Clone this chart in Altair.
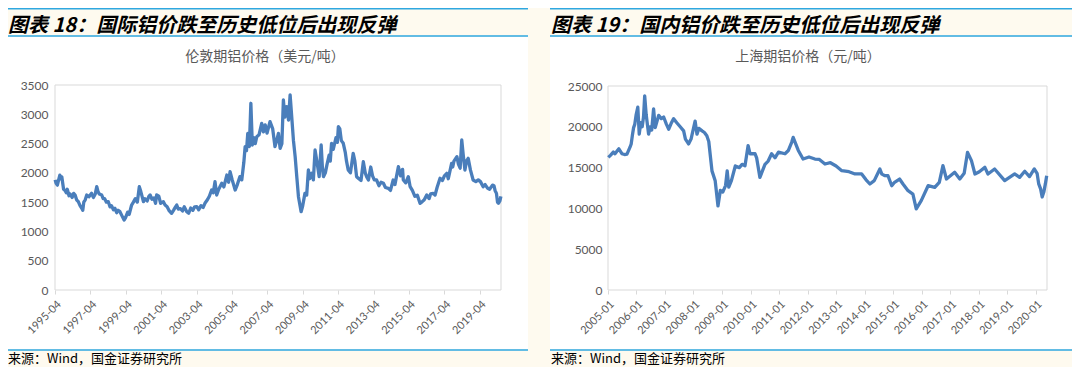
import altair as alt
import pandas as pd

# ---------------- data ----------------
lme_dates = [
    "1995-04-03", "1995-04-25", "1995-05-20", "1995-06-15", "1995-07-10", "1995-07-28", "1995-08-20",
    "1995-09-25", "1995-10-25", "1995-11-20", "1995-12-10", "1996-01-15", "1996-02-05", "1996-03-20",
    "1996-04-20", "1996-05-20", "1996-06-20", "1996-07-25", "1996-08-30", "1996-10-05", "1996-10-25",
    "1996-11-15", "1996-12-15", "1997-01-15", "1997-03-01", "1997-04-25", "1997-06-01", "1997-07-10",
    "1997-08-10", "1997-09-05", "1997-10-01", "1997-11-20", "1997-12-20", "1998-01-20", "1998-02-25",
    "1998-04-05", "1998-05-10", "1998-06-10", "1998-07-20", "1998-08-20", "1998-09-25", "1998-10-25",
    "1998-12-01", "1999-01-10", "1999-02-25", "1999-03-25", "1999-05-10", "1999-06-10", "1999-07-30",
    "1999-09-05", "1999-10-15", "1999-11-25", "2000-01-05", "2000-02-05", "2000-03-30", "2000-04-30",
    "2000-06-15", "2000-07-20", "2000-08-15", "2000-09-20", "2000-11-01", "2000-12-05", "2000-12-28",
    "2001-02-10", "2001-03-20", "2001-05-15", "2001-06-20", "2001-08-01", "2001-09-15", "2001-11-01",
    "2001-12-10", "2002-01-15", "2002-02-15", "2002-03-20", "2002-05-01", "2002-06-15", "2002-07-20",
    "2002-09-10", "2002-10-20", "2002-12-01", "2003-01-15", "2003-02-20", "2003-04-05", "2003-05-15",
    "2003-07-01", "2003-08-15", "2003-09-20", "2003-11-10", "2003-12-20", "2004-02-05", "2004-03-10",
    "2004-04-15", "2004-05-20", "2004-07-01", "2004-09-01", "2004-10-15", "2004-12-15", "2005-01-20",
    "2005-02-20", "2005-04-05", "2005-06-05", "2005-07-20", "2005-09-10", "2005-10-20", "2005-12-01",
    "2005-12-28", "2006-01-25", "2006-02-20", "2006-03-25", "2006-04-25", "2006-05-05", "2006-05-25",
    "2006-06-25", "2006-07-25", "2006-08-25", "2006-10-10", "2006-12-05", "2007-01-10", "2007-02-15",
    "2007-03-25", "2007-05-25", "2007-07-20", "2007-09-05", "2007-10-10", "2007-11-15", "2007-12-20",
    "2008-01-25", "2008-02-25", "2008-03-25", "2008-05-05", "2008-06-10", "2008-07-13", "2008-08-15",
    "2008-09-20", "2008-10-25", "2008-12-01", "2009-01-01", "2009-02-25", "2009-03-25", "2009-05-15",
    "2009-06-20", "2009-07-25", "2009-08-20", "2009-10-01", "2009-11-05", "2009-12-10", "2010-01-25",
    "2010-03-05", "2010-04-15", "2010-05-10", "2010-06-01", "2010-07-10", "2010-08-15", "2010-09-25",
    "2010-10-20", "2010-11-15", "2010-12-20", "2011-02-15", "2011-03-15", "2011-04-05", "2011-05-05",
    "2011-06-05", "2011-07-15", "2011-08-25", "2011-09-20", "2011-10-25", "2011-12-10", "2012-02-05",
    "2012-03-10", "2012-04-15", "2012-06-01", "2012-07-15", "2012-09-01", "2012-10-10", "2012-11-10",
    "2012-12-15", "2013-02-01", "2013-03-10", "2013-04-15", "2013-06-01", "2013-07-20", "2013-09-01",
    "2013-10-20", "2013-12-01", "2014-01-30", "2014-03-15", "2014-05-10", "2014-06-15", "2014-08-25",
    "2014-10-10", "2014-11-20", "2014-12-05", "2015-01-25", "2015-03-18", "2015-04-25", "2015-06-10",
    "2015-08-01", "2015-09-20", "2015-11-15", "2015-12-20", "2016-02-10", "2016-04-01", "2016-05-20",
    "2016-06-20", "2016-08-15", "2016-09-20", "2016-11-01", "2017-01-01", "2017-02-20", "2017-04-01",
    "2017-05-20", "2017-06-20", "2017-08-28", "2017-09-20", "2017-10-15", "2017-12-15", "2018-01-15",
    "2018-02-20", "2018-03-25", "2018-04-25", "2018-05-30", "2018-07-01", "2018-08-05", "2018-09-20",
    "2018-11-15", "2019-01-10", "2019-03-01", "2019-04-15", "2019-06-10", "2019-07-20", "2019-09-12",
    "2019-10-20", "2019-12-20", "2020-01-20", "2020-02-10", "2020-03-10", "2020-04-01", "2020-04-20",
    "2020-05-20", "2020-06-10",
]
lme_values = [
    1880, 1820, 1790, 1880, 1960, 1900, 1930,
    1720, 1700, 1660, 1720, 1610, 1640, 1580,
    1650, 1622, 1540, 1508, 1440, 1394, 1360,
    1500, 1540, 1622, 1590, 1650, 1580, 1640,
    1764, 1680, 1640, 1622, 1560, 1560, 1500,
    1508, 1420, 1440, 1370, 1394, 1320, 1360,
    1337, 1270, 1195, 1230, 1330, 1290, 1451,
    1500, 1560, 1500, 1764, 1680, 1508, 1560,
    1520, 1600, 1622, 1550, 1570, 1480, 1622,
    1600, 1480, 1508, 1450, 1420, 1350, 1309,
    1360, 1410, 1451, 1380, 1390, 1350, 1420,
    1337, 1310, 1400, 1360, 1420, 1423, 1370,
    1440, 1410, 1480, 1540, 1600, 1707, 1660,
    1850, 1622, 1720, 1821, 1760, 1963, 1840,
    2020, 1880, 1707, 1800, 1935, 1880, 2180,
    2447, 2380, 2675, 2450, 3188, 2950, 2476,
    2600, 2500, 2618, 2650, 2846, 2700, 2820,
    2680, 2874, 2750, 2447, 2550, 2675, 2419,
    2500, 3244, 2950, 3130, 2900, 3330, 2960,
    2550, 2276, 1900, 1593, 1337, 1420, 1650,
    1620, 2049, 1900, 1992, 1880, 2390, 2150,
    1935, 2476, 2100, 1935, 2000, 2150, 2300,
    2200, 2504, 2400, 2600, 2520, 2789, 2750,
    2550, 2504, 2350, 2200, 2049, 2000, 2333,
    2200, 1935, 1900, 1870, 2191, 2000, 1930,
    1878, 2100, 1950, 1880, 1878, 1780, 1840,
    1821, 1750, 1736, 1700, 1878, 1800, 2105,
    1950, 2060, 1878, 1830, 1935, 1764, 1700,
    1600, 1620, 1480, 1500, 1540, 1622, 1560,
    1640, 1650, 1620, 1750, 1907, 1870, 1950,
    1992, 1900, 2163, 2100, 2200, 2276, 2150,
    2080, 2561, 2300, 2049, 2200, 2248, 2050,
    1878, 1850, 1880, 1850, 1764, 1800, 1736,
    1720, 1790, 1780, 1700, 1650, 1500, 1480,
    1520, 1600,
]

shfe_dates = [
    "2005-01-05", "2005-02-01", "2005-03-10", "2005-04-01", "2005-04-25", "2005-05-20", "2005-06-28",
    "2005-08-01", "2005-09-01", "2005-10-10", "2005-10-25", "2005-11-10", "2005-11-25", "2005-12-10",
    "2005-12-28", "2006-01-18", "2006-02-05", "2006-02-25", "2006-03-15", "2006-04-01", "2006-04-16",
    "2006-05-05", "2006-06-05", "2006-06-25", "2006-07-15", "2006-08-08", "2006-08-29", "2006-10-12",
    "2006-11-15", "2006-12-15", "2007-01-20", "2007-02-18", "2007-03-20", "2007-04-22", "2007-06-01",
    "2007-07-15", "2007-08-28", "2007-09-20", "2007-10-30", "2007-12-01", "2008-01-22", "2008-02-15",
    "2008-03-10", "2008-04-20", "2008-05-20", "2008-06-20", "2008-07-15", "2008-08-25", "2008-10-05",
    "2008-11-10", "2008-12-10", "2009-01-10", "2009-02-15", "2009-03-08", "2009-03-28", "2009-05-01",
    "2009-06-20", "2009-08-10", "2009-09-15", "2009-10-22", "2009-12-01", "2009-12-25", "2010-02-28",
    "2010-03-20", "2010-05-01", "2010-07-05", "2010-08-15", "2010-09-28", "2010-11-10", "2010-12-25",
    "2011-03-18", "2011-05-01", "2011-06-12", "2011-07-01", "2011-09-05", "2011-11-05", "2012-01-20",
    "2012-04-05", "2012-06-01", "2012-08-12", "2012-10-20", "2013-01-01", "2013-03-15", "2013-06-15",
    "2013-09-01", "2013-11-25", "2014-01-20", "2014-03-10", "2014-05-05", "2014-07-16", "2014-08-10",
    "2014-09-20", "2014-10-28", "2014-12-15", "2015-01-20", "2015-03-25", "2015-05-08", "2015-07-12",
    "2015-09-12", "2015-10-25", "2015-12-28", "2016-03-25", "2016-06-18", "2016-08-15", "2016-10-01",
    "2016-11-15", "2017-02-28", "2017-05-05", "2017-06-30", "2017-08-12", "2017-10-01", "2017-11-15",
    "2018-01-10", "2018-03-22", "2018-05-01", "2018-07-25", "2018-12-01", "2019-04-08", "2019-06-10",
    "2019-08-15", "2019-10-15", "2019-12-15", "2020-01-20", "2020-02-10", "2020-03-05", "2020-03-25",
    "2020-04-15", "2020-05-05", "2020-05-22",
]
shfe_values = [
    16250, 16500, 16900, 16700, 17000, 17300, 16700,
    16600, 16650, 17500, 17900, 19000, 19900, 20300,
    21500, 22400, 19100, 20500, 20000, 21200, 23800,
    21500, 19100, 20000, 19600, 22200, 19900, 21400,
    21000, 21200, 20300, 19700, 20400, 21000, 20500,
    20000, 19500, 18500, 17900, 18500, 20700, 19100,
    19800, 19500, 19300, 18900, 18200, 14600, 13400,
    10300, 12200, 12000, 12800, 14600, 12600, 13400,
    15200, 15000, 15400, 15230, 17700, 16700, 16700,
    16200, 13800, 15400, 15800, 16700, 16200, 16900,
    16700, 17100, 18100, 18700, 17100, 16050, 16300,
    16050, 16000, 15440, 15600, 15200, 14620, 14500,
    14220, 14220, 13500, 12990, 13400, 14830, 14200,
    14010, 14000, 12780, 13200, 13600, 12990, 12170,
    11760, 9950, 10950, 12780, 12580, 13200, 15230,
    13600, 14420, 13600, 14300, 16870, 15850, 14220,
    14500, 15030, 14220, 14830, 13400, 14220, 13810,
    14550, 13900, 14830, 14300, 13000, 12400, 11400,
    12000, 13000, 14000,
]

lme_ticks = ["1995-04", "1997-04", "1999-04", "2001-04", "2003-04", "2005-04", "2007-04",
             "2009-04", "2011-04", "2013-04", "2015-04", "2017-04", "2019-04"]
shfe_ticks = ["2005-01", "2006-01", "2007-01", "2008-01", "2009-01", "2010-01", "2011-01", "2012-01",
              "2013-01", "2014-01", "2015-01", "2016-01", "2017-01", "2018-01", "2019-01", "2020-01"]
lme_yticks = [0, 500, 1000, 1500, 2000, 2500, 3000, 3500]
shfe_yticks = [0, 5000, 10000, 15000, 20000, 25000]
lme_domain = ["1995-04-01", "2020-06-12"]
shfe_domain = ["2005-01-01", "2020-05-26"]

titles = ["图表 18：国际铝价跌至历史低位后出现反弹", "图表 19：国内铝价跌至历史低位后出现反弹"]
subtitles = ["伦敦期铝价格（美元/吨）", "上海期铝价格（元/吨）"]
source = "来源：Wind，国金证券研究所"

# ---------------- style ----------------
W, H = 1064, 359
BG = "#FEFAEF"
BLUE = "#2EA7E0"
LINE = "#4A7EBB"
GRAY = "#595959"
FRAME = "#D9D9D9"
CJK = "Noto Sans CJK SC"
NUM = "Lato"
X_AXIS_Y = 282


def dt(s):
    parts = s.split("-")
    return alt.DateTime(year=int(parts[0]), month=int(parts[1]),
                        date=int(parts[2]) if len(parts) > 2 else 1)


one = alt.Data(values=[{}])


def rect(x1, x2, y1, y2, **kw):
    return alt.Chart(one).mark_rect(**kw).encode(
        x=alt.value(x1), x2=alt.value(x2), y=alt.value(y1), y2=alt.value(y2))


def hrule(x1, x2, y, color, width):
    return alt.Chart(one).mark_rule(color=color, strokeWidth=width).encode(
        x=alt.value(x1), x2=alt.value(x2), y=alt.value(y))


def text(t, x, y, **kw):
    return alt.Chart(one).mark_text(text=t, **kw).encode(x=alt.value(x), y=alt.value(y))


def series(df, domain, xrange, ticks, ydomain, yrange, yticks, yoffset, ypad):
    return alt.Chart(df).mark_line(color=LINE, strokeWidth=3.3, strokeJoin="round").encode(
        x=alt.X("date:T",
                scale=alt.Scale(domain=[dt(domain[0]), dt(domain[1])], range=xrange),
                axis=alt.Axis(values=[dt(t) for t in ticks], format="%Y-%m", labelAngle=-45,
                              orient="bottom", offset=-(H - X_AXIS_Y), domain=False, ticks=True,
                              tickSize=4, tickColor=FRAME, labelColor=GRAY, labelFont=NUM,
                              labelFontSize=11, labelPadding=4, labelOverlap=False,
                              labelFlush=False, grid=False, title=None, zindex=1)),
        y=alt.Y("price:Q",
                scale=alt.Scale(domain=ydomain, range=yrange, nice=False, zero=True),
                axis=alt.Axis(values=yticks, format="d", orient="left", offset=-yoffset,
                              domain=False, ticks=False, tickSize=0, labelPadding=ypad,
                              labelColor=GRAY, labelFont=NUM, labelFontSize=12, grid=False,
                              title=None, zindex=1)),
    )


lme = pd.DataFrame({"date": lme_dates, "price": lme_values})
shfe = pd.DataFrame({"date": shfe_dates, "price": shfe_values})

layers = []
# white panel boxes
layers.append(rect(0, 520, 29, 341, color="white"))
layers.append(rect(542, 1064, 29, 341, color="white"))
# blue rules
for x0, w in [(0, 520), (542, 522)]:
    layers.append(hrule(x0, x0 + w, 0.75, BLUE, 1.5))
    layers.append(hrule(x0, x0 + w, 28, BLUE, 1.5))
    layers.append(hrule(x0, x0 + w, 342, BLUE, 1.5))
# plot frames
layers.append(rect(47, 493, 77, X_AXIS_Y, fill=None, fillOpacity=0, stroke=FRAME, strokeWidth=1))
layers.append(rect(600, 1039, 78, X_AXIS_Y, fill=None, fillOpacity=0, stroke=FRAME, strokeWidth=1))
# series
layers.append(series(lme, lme_domain, [47, 493], lme_ticks, [0, 3500], [X_AXIS_Y, 77],
                     lme_yticks, 47, 7))
layers.append(series(shfe, shfe_domain, [600, 1039], shfe_ticks, [0, 25000], [X_AXIS_Y, 78],
                     shfe_yticks, 600, 6))
# texts
layers.append(text(titles[0], 0, 23.5, align="left", baseline="alphabetic", font=CJK, fontSize=20,
                   fontWeight="bold", fontStyle="italic", color="black"))
layers.append(text(titles[1], 543, 23.5, align="left", baseline="alphabetic", font=CJK,
                   fontSize=20, fontWeight="bold", fontStyle="italic", color="black"))
layers.append(text(subtitles[0], 257, 49, align="center", baseline="middle", font=CJK,
                   fontSize=14, color=GRAY))
layers.append(text(subtitles[1], 800, 49, align="center", baseline="middle", font=CJK,
                   fontSize=14, color=GRAY))
layers.append(text(source, 0, 351, align="left", baseline="middle", font=CJK, fontSize=13,
                   color="black"))
layers.append(text(source, 543, 351, align="left", baseline="middle", font=CJK, fontSize=13,
                   color="black"))

chart = alt.layer(*layers).resolve_scale(x="independent", y="independent").resolve_axis(
    x="independent", y="independent"
).properties(
    width=W, height=H, padding=0, autosize=alt.AutoSizeParams(type="none")
).configure(background=BG).configure_view(stroke=None)

chart.save("out.html", embed_options={"renderer": "svg", "actions": False})
